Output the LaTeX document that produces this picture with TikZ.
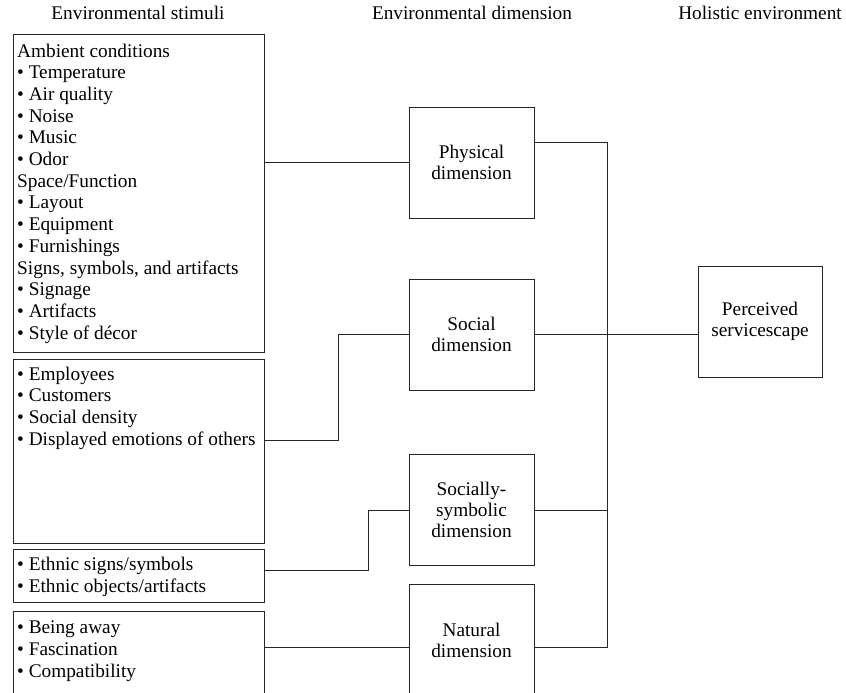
\documentclass[tikz,border=0pt]{standalone}
\usepackage{fontspec}
\setmainfont{Liberation Serif}
\begin{document}
\begin{tikzpicture}[x=1pt,y=-1pt,
  ln/.style={draw=black!85, line width=1pt},
  stimbox/.style={ln, rectangle, inner sep=0pt, outer sep=0pt, anchor=north west, minimum width=251pt},
  stimtxt/.style={anchor=north west, inner sep=0pt, align=left, font=\fontsize{19.3}{21.7}\selectfont},
  dimbox/.style={ln, rectangle, inner sep=0pt, outer sep=0pt, minimum width=125pt, minimum height=111pt, align=center, font=\fontsize{19.3}{21}\selectfont},
  head/.style={anchor=base, inner sep=0pt, font=\fontsize{19.3}{21.7}\selectfont}
]
\useasboundingbox (0,0) rectangle (846,693);
\clip (0,0) rectangle (846,693);

% headers
\node[head] (h1) at (138,20) {Environmental stimuli};
\node[head] (h2) at (472,20) {Environmental dimension};
\node[head] (h3) at (760,20) {Holistic environment};

% stimulus boxes
\node[stimbox, minimum height=317pt] (s1) at (13,35) {};
\node[stimbox, minimum height=184pt] (s2) at (13,359) {};
\node[stimbox, minimum height=53pt] (s3) at (13,549) {};
\node[stimbox, minimum height=100pt] (s4) at (13,611) {};

\node[stimtxt] (s1t) at (17,43.5) {Ambient conditions\\
• Temperature\\
• Air quality\\
• Noise\\
• Music\\
• Odor\\
Space/Function\\
• Layout\\
• Equipment\\
• Furnishings\\
Signs, symbols, and artifacts\\
• Signage\\
• Artifacts\\
• Style of décor};
\node[stimtxt] (s2t) at (17,366.5) {• Employees\\
• Customers\\
• Social density\\
• Displayed emotions of others};
\node[stimtxt] (s3t) at (17,557) {• Ethnic signs/symbols\\
• Ethnic objects/artifacts};
\node[stimtxt] (s4t) at (17,621) {• Being away\\
• Fascination\\
• Compatibility};

% dimension boxes
\node[dimbox] (phys) at (471.5,162.5) {Physical\\dimension};
\node[dimbox] (soc) at (471.5,334.5) {Social\\dimension};
\node[dimbox] (sym) at (471.5,510) {Socially-\\symbolic\\dimension};
\node[dimbox, minimum height=112pt] (nat) at (471.5,640) {Natural\\dimension};

% holistic
\node[dimbox, minimum width=124pt] (per) at (760,321.5) {Perceived\\servicescape};

% coordinates
\coordinate (bt) at (607,142);
\coordinate (bb) at (607,647);
\coordinate (n4) at (264,647);

% left connectors
\draw[ln] (phys.west -| s1.east) -- (phys.west);
\draw[ln] (s2.north east) ++(0,81) -- ++(74,0) |- (soc.west);
\draw[ln] (s3.north east) ++(0,21) -- ++(104,0) |- (sym.west);
\draw[ln] (n4) -- (n4 -| nat.west);

% right connectors
\draw[ln] (phys.north east) ++(0,35) -- (bt) -- (bb) -- (bb -| nat.east);
\draw[ln] (sym.east) -- (sym.east -| bt);
\draw[ln] (soc.east) -- (soc.east -| per.west);
\end{tikzpicture}
\end{document}
